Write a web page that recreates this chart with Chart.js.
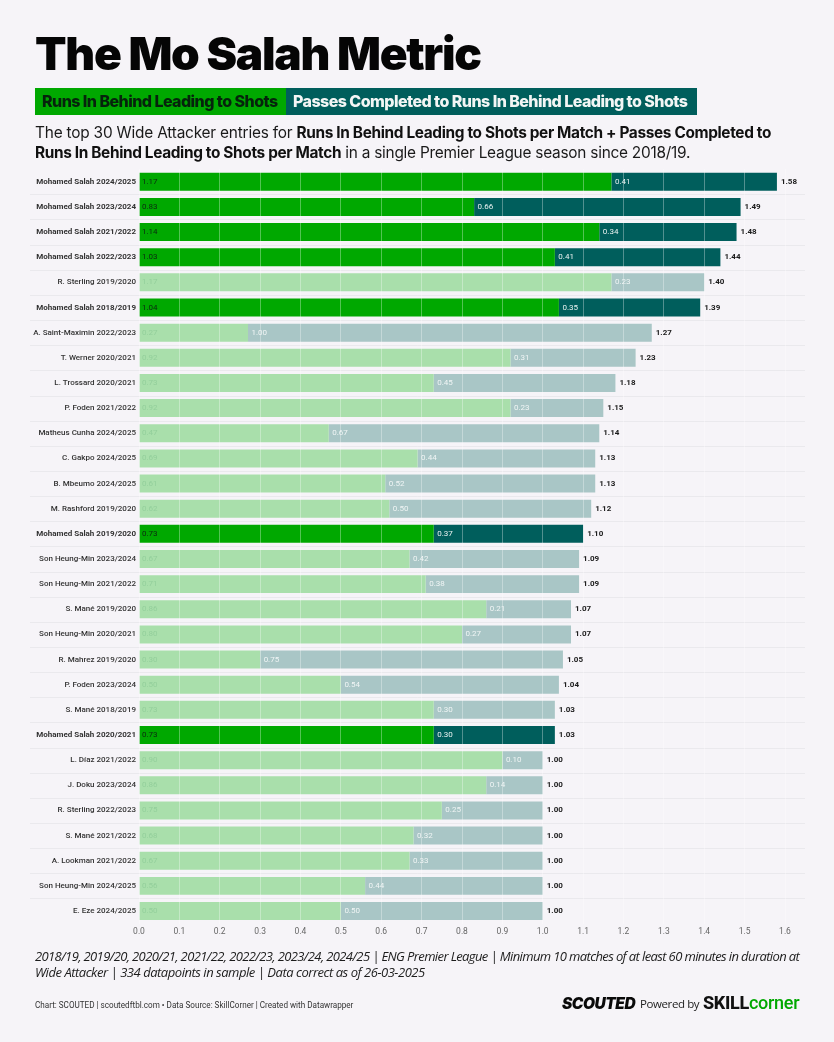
<!DOCTYPE html>
<html><head><meta charset="utf-8">
<script src="https://cdn.jsdelivr.net/npm/chart.js@4"></script>
<style>
html,body{margin:0;padding:0;background:#f6f4f8}
#page{position:relative;width:834px;height:1042px;overflow:hidden;background:#f6f4f8;color:#111}
#page canvas{position:absolute;left:0;top:0}
.t{position:absolute;white-space:nowrap}
#title{left:35px;top:26px;font:900 46px/54px Inter,sans-serif;letter-spacing:-1.28px;color:#050505}
.key{position:absolute;top:88px;height:27px;font:800 16px/27px Inter,sans-serif;letter-spacing:-.55px;box-sizing:border-box;padding-left:7px;white-space:nowrap}
#k1{left:35px;width:251px;background:#00a800;color:#06230c}
#k2{left:286px;width:411px;background:#005e5c;color:#f3f6f5}
#sub{left:35px;top:123px;font:400 15.4px/19.6px Inter,sans-serif;letter-spacing:-.2px;color:#1a1a1a}
#sub b{font-weight:700;color:#111;letter-spacing:-.35px}
#sub .l2{letter-spacing:-.24px}
#note{left:35px;top:948px;font:italic 400 13px/16px "Open Sans",sans-serif;letter-spacing:-.47px;color:#1c1c1c}
#note .l1{letter-spacing:-.62px}
#credit{left:35px;top:999px;font:400 8.15px/13px Roboto,sans-serif;color:#333}
#scouted{left:562px;top:994px;font:italic 900 15.5px/20px Inter,sans-serif;letter-spacing:-.5px;color:#0a0a0a}
#powered{left:640px;top:996px;font:400 11.5px/16px "Open Sans",sans-serif;letter-spacing:-.4px;color:#222}
#skill{left:703px;top:992px;font:800 18px/22px Roboto,sans-serif;letter-spacing:-.3px;color:#111}
#skill span{color:#00a800;font-weight:500}
</style></head><body>
<div id="page">
<canvas id="c" width="834" height="1042"></canvas>
<div class="t" id="title">The Mo Salah Metric</div>
<div class="key" id="k1">Runs In Behind Leading to Shots</div>
<div class="key" id="k2">Passes Completed to Runs In Behind Leading to Shots</div>
<div class="t" id="sub">The top 30 Wide Attacker entries for <b>Runs In Behind Leading to Shots per Match + Passes Completed to</b><br><b>Runs In Behind Leading to Shots per Match</b><span class="l2"> in a single Premier League season since 2018/19.</span></div>
<div class="t" id="note"><span class="l1">2018/19, 2019/20, 2020/21, 2021/22, 2022/23, 2023/24, 2024/25 | ENG Premier League | Minimum 10 matches of at least 60 minutes in duration at</span><br>Wide Attacker | 334 datapoints in sample | Data correct as of 26-03-2025</div>
<div class="t" id="credit">Chart: SCOUTED | scoutedftbl.com • Data Source: SkillCorner | Created with Datawrapper</div>
<div class="t" id="scouted">SCOUTED</div>
<div class="t" id="powered">Powered by</div>
<div class="t" id="skill">SKILL<span>corner</span></div>
</div>
<script>
const categories = ["Mohamed Salah 2024/2025","Mohamed Salah 2023/2024","Mohamed Salah 2021/2022","Mohamed Salah 2022/2023","R. Sterling 2019/2020","Mohamed Salah 2018/2019","A. Saint-Maximin 2022/2023","T. Werner 2020/2021","L. Trossard 2020/2021","P. Foden 2021/2022","Matheus Cunha 2024/2025","C. Gakpo 2024/2025","B. Mbeumo 2024/2025","M. Rashford 2019/2020","Mohamed Salah 2019/2020","Son Heung-Min 2023/2024","Son Heung-Min 2021/2022","S. Mané 2019/2020","Son Heung-Min 2020/2021","R. Mahrez 2019/2020","P. Foden 2023/2024","S. Mané 2018/2019","Mohamed Salah 2020/2021","L. Díaz 2021/2022","J. Doku 2023/2024","R. Sterling 2022/2023","S. Mané 2021/2022","A. Lookman 2021/2022","Son Heung-Min 2024/2025","E. Eze 2024/2025"];
const runsInBehind = [1.17,0.83,1.14,1.03,1.17,1.04,0.27,0.92,0.73,0.92,0.47,0.69,0.61,0.62,0.73,0.67,0.71,0.86,0.80,0.30,0.50,0.73,0.73,0.90,0.86,0.75,0.68,0.67,0.56,0.50];
const passesCompleted = [0.41,0.66,0.34,0.41,0.23,0.35,1.00,0.31,0.45,0.23,0.67,0.44,0.52,0.50,0.37,0.42,0.38,0.21,0.27,0.75,0.54,0.30,0.30,0.10,0.14,0.25,0.32,0.33,0.44,0.50];
const totals = [1.58,1.49,1.48,1.44,1.40,1.39,1.27,1.23,1.18,1.15,1.14,1.13,1.13,1.12,1.10,1.09,1.09,1.07,1.07,1.05,1.04,1.03,1.03,1.00,1.00,1.00,1.00,1.00,1.00,1.00];

const isHi = i => categories[i].startsWith("Mohamed Salah");
const FONT = "Roboto, sans-serif";

const rowLines = {
  id:"rowLines",
  beforeDatasetsDraw(ch){
    const y = ch.scales.y, c = ch.ctx;
    c.save(); c.strokeStyle="rgba(190,190,195,.2)"; c.lineWidth=1;
    for(let i=0;i<categories.length-1;i++){
      const p = Math.round((y.getPixelForValue(i)+y.getPixelForValue(i+1))/2)+.5;
      c.beginPath(); c.moveTo(30,p); c.lineTo(805,p); c.stroke();
    }
    c.restore();
  }
};
const barLabels = {
  id:"barLabels",
  afterDraw(ch){
    const c = ch.ctx, m0 = ch.getDatasetMeta(0), m1 = ch.getDatasetMeta(1), x = ch.scales.x;
    c.save(); c.textBaseline="middle"; c.textAlign="left";
    categories.forEach((_,i)=>{
      const y0 = m0.data[i].y, hi = isHi(i);
      c.font = "400 8px "+FONT;
      c.fillStyle = hi ? "#0b2a10" : "#93cf9b";
      c.fillText(runsInBehind[i].toFixed(2), x.getPixelForValue(0)+3, y0);
      c.fillStyle = hi ? "#e9f2f1" : "#f0f5f5";
      c.fillText(passesCompleted[i].toFixed(2), x.getPixelForValue(runsInBehind[i])+3.5, y0);
      c.font = "700 8px "+FONT;
      c.fillStyle = "#1a1a1a";
      c.fillText(totals[i].toFixed(2), m1.data[i].x+4, y0);
    });
    c.restore();
  }
};

new Chart(document.getElementById("c"),{
  type:"bar",
  data:{labels:categories,datasets:[
    {label:"Runs In Behind Leading to Shots",data:runsInBehind,
     backgroundColor:ctx=>isHi(ctx.dataIndex)?"#00a800":"#a9dfab"},
    {label:"Passes Completed to Runs In Behind Leading to Shots",data:passesCompleted,
     backgroundColor:ctx=>isHi(ctx.dataIndex)?"#005e5c":"#a9c6c6"}
  ]},
  options:{
    indexAxis:"y",responsive:false,animation:false,devicePixelRatio:1,
    layout:{padding:{top:169.2,right:49,left:0,bottom:0}},
    datasets:{bar:{barPercentage:.715,categoryPercentage:1}},
    plugins:{legend:{display:false},tooltip:{enabled:false}},
    scales:{
      x:{stacked:true,min:0,max:1.6,
         afterFit(s){s.height=118.4},
         grid:{color:"rgba(255,255,255,.32)",lineWidth:1,z:1,drawTicks:false},
         border:{display:false},
         ticks:{stepSize:.1,padding:3,maxRotation:0,autoSkip:false,color:"#666",font:{family:FONT,size:8.5},
                callback:v=>Number(v).toFixed(1)}},
      y:{stacked:true,
         afterFit(s){s.width=139},
         grid:{display:false,drawTicks:false},border:{display:false},
         ticks:{autoSkip:false,padding:3,color:"#333",
                font:ctx=>({family:FONT,size:8,weight:isHi(ctx.index)?"700":"500"})}}
    }
  },
  plugins:[rowLines,barLabels]
});
</script>
</body></html>
